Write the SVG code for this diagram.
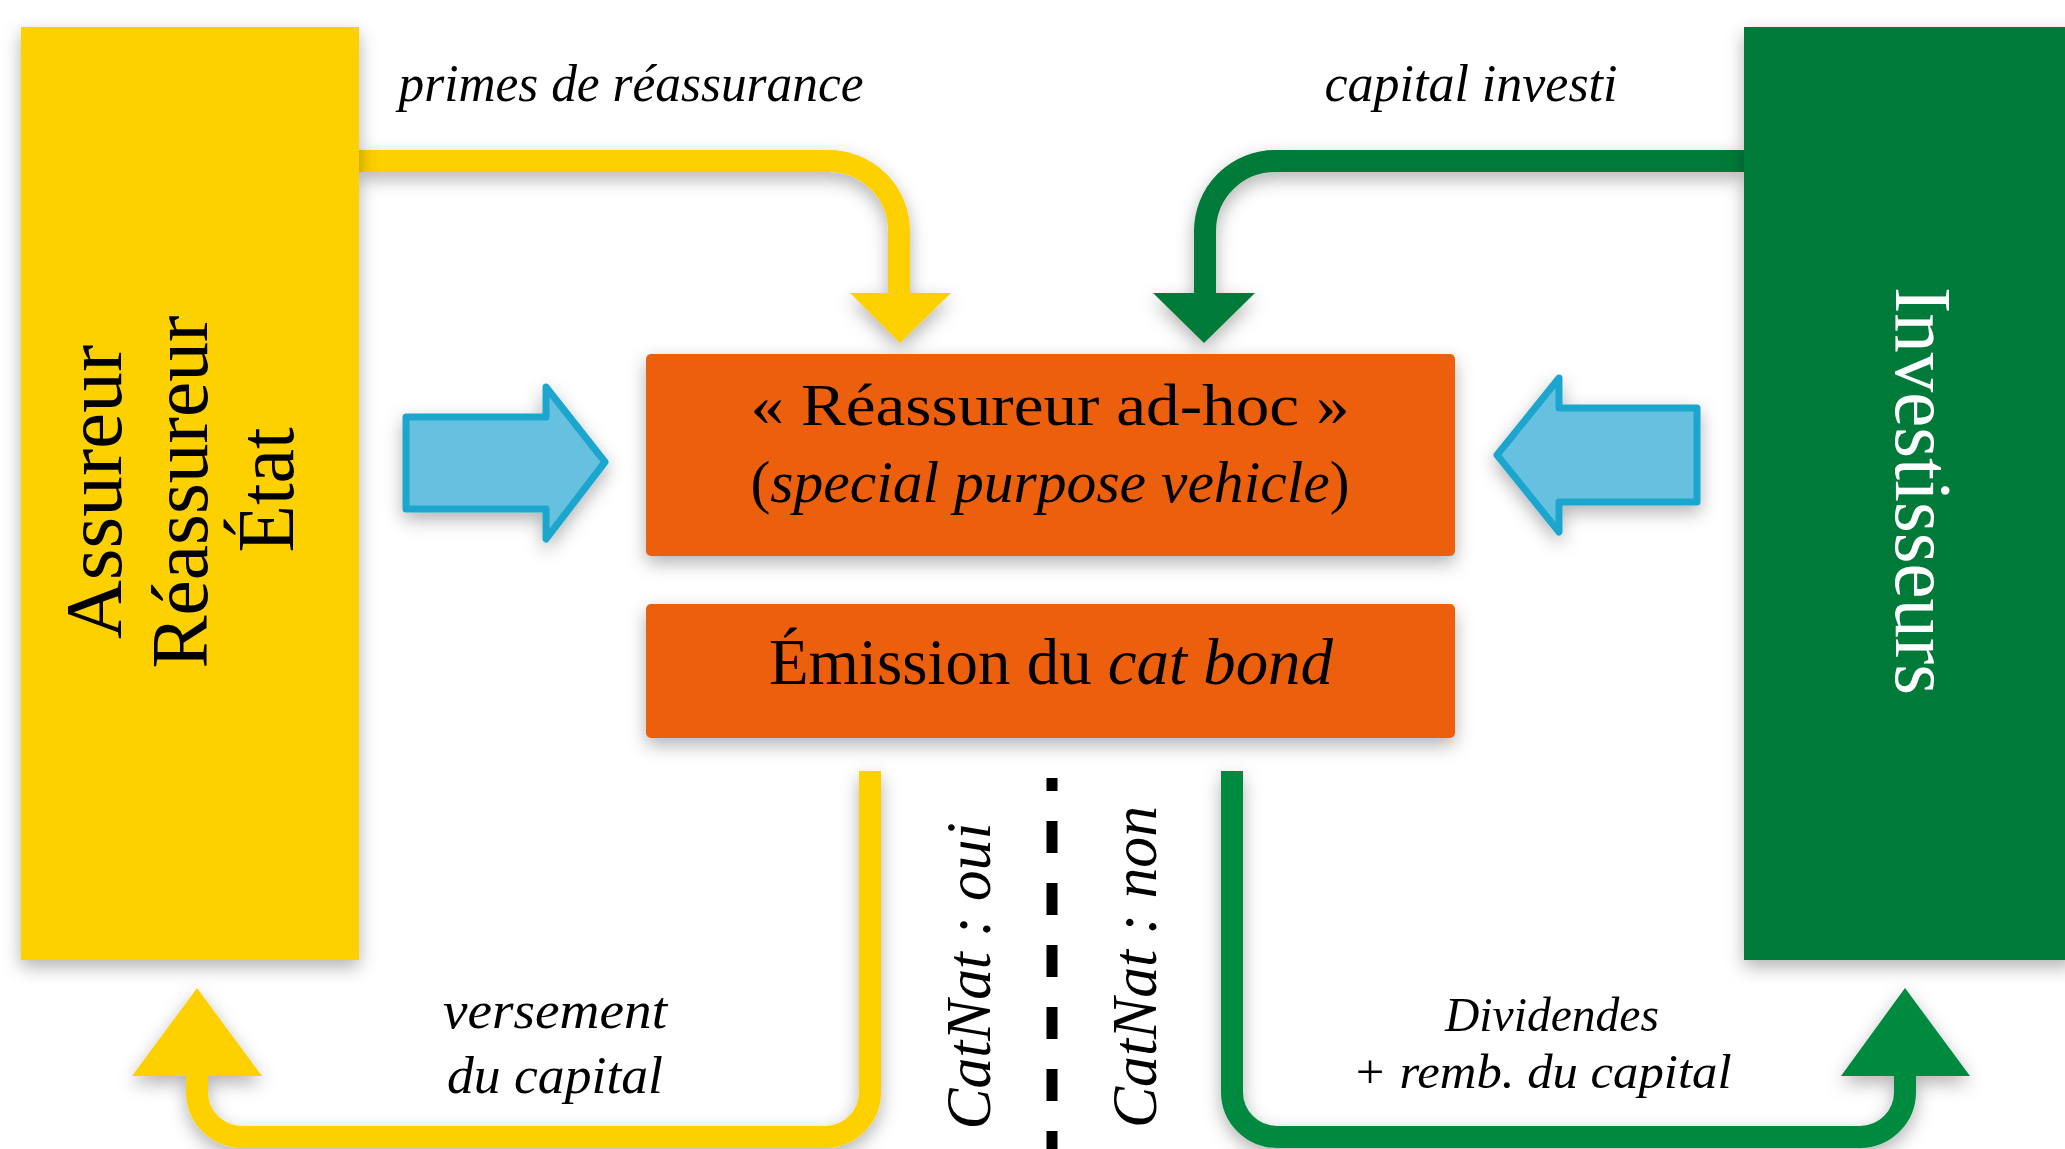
<svg xmlns="http://www.w3.org/2000/svg" width="2065" height="1149" viewBox="0 0 2065 1149">
<defs>
<filter id="sh" x="-20%" y="-20%" width="140%" height="140%">
<feDropShadow dx="0" dy="7" stdDeviation="9" flood-color="#000" flood-opacity="0.3"/>
</filter>
<style>
text{font-family:"Liberation Serif","Times New Roman",serif;fill:#000}
.it{font-style:italic}
.lbl{font-size:52px;font-style:italic}
.big{font-size:66px}
.spv{font-size:60px}
.side{font-size:80px}
.yl{fill:none;stroke:#FDD000;stroke-width:22}
.gl{fill:none;stroke:#008A40;stroke-width:22}
.gt{fill:none;stroke:#007A38;stroke-width:22}
.blue{fill:#66C0DF;stroke:#1BA6CE;stroke-width:7;stroke-linejoin:round}
.org{fill:#EC610A}
</style>
</defs>
<rect width="2065" height="1149" fill="#fff"/>

<g id="connectors" filter="url(#sh)">
<path class="yl" d="M 358 161 H 829 A 70 70 0 0 1 899 231 V 296"/>
<polygon points="850,293 951,293 900,343" fill="#FDD000"/>
<path class="gt" d="M 1744 161 H 1275 A 70 70 0 0 0 1205 231 V 296"/>
<polygon points="1153,293 1255,293 1204,343" fill="#007A38"/>
<path class="yl" d="M 870 771 V 1092 A 45 45 0 0 1 825 1137 H 242 A 45 45 0 0 1 197 1092 V 1073"/>
<polygon points="132,1076 262,1076 197,988" fill="#FDD000"/>
<path class="gl" d="M 1232 771 V 1092 A 45 45 0 0 0 1277 1137 H 1860 A 45 45 0 0 0 1905 1092 V 1073"/>
<polygon points="1841,1076 1970,1076 1905,988" fill="#008A40"/>
</g>

<g id="dash-line">
<line x1="1052" y1="778" x2="1052" y2="1149" stroke="#000" stroke-width="11" stroke-dasharray="32 30" stroke-dashoffset="19"/>
</g>

<g id="assureur" filter="url(#sh)">
<rect x="21" y="27" width="338" height="933" fill="#FDD000"/>
</g>
<g id="assureur-text">
<text class="side" transform="translate(121,492) rotate(-90)" text-anchor="middle" textLength="294" lengthAdjust="spacingAndGlyphs">Assureur</text>
<text class="side" transform="translate(207,492) rotate(-90)" text-anchor="middle" textLength="353" lengthAdjust="spacingAndGlyphs">Réassureur</text>
<text class="side" transform="translate(293,490) rotate(-90)" text-anchor="middle" textLength="125" lengthAdjust="spacingAndGlyphs">État</text>
</g>

<g id="investisseurs" filter="url(#sh)">
<rect x="1744" y="27" width="330" height="933" fill="#007A38"/>
</g>
<text class="side" transform="translate(1896,491) rotate(90)" text-anchor="middle" textLength="408" lengthAdjust="spacingAndGlyphs" style="fill:#fff">Investisseurs</text>

<g id="spv" filter="url(#sh)">
<rect class="org" x="646" y="354" width="809" height="202" rx="5"/>
</g>
<text class="spv" x="1050" y="425" text-anchor="middle" textLength="599" lengthAdjust="spacingAndGlyphs">« Réassureur ad-hoc »</text>
<text class="spv" x="1050" y="502" text-anchor="middle" textLength="599" lengthAdjust="spacingAndGlyphs">(<tspan class="it">special purpose vehicle</tspan>)</text>

<g id="emission" filter="url(#sh)">
<rect class="org" x="646" y="604" width="809" height="134" rx="5"/>
</g>
<text class="big" x="1051" y="684" text-anchor="middle" textLength="564" lengthAdjust="spacingAndGlyphs">Émission du <tspan class="it">cat bond</tspan></text>

<g id="arrow-left" filter="url(#sh)">
<path class="blue" d="M 406 417 H 546 V 387 L 605 462 L 546 539 V 509 H 406 Z"/>
</g>
<g id="arrow-right" filter="url(#sh)">
<path class="blue" d="M 1697 408 H 1559 V 378 L 1497 455 L 1559 532 V 502 H 1697 Z"/>
</g>

<g id="labels">
<text class="lbl" x="631" y="101" text-anchor="middle" textLength="465" lengthAdjust="spacingAndGlyphs">primes de réassurance</text>
<text class="lbl" x="1471" y="101" text-anchor="middle" textLength="293" lengthAdjust="spacingAndGlyphs">capital investi</text>
<text class="lbl" x="555" y="1028" text-anchor="middle" textLength="224" lengthAdjust="spacingAndGlyphs">versement</text>
<text class="lbl" x="555" y="1093" text-anchor="middle" textLength="216" lengthAdjust="spacingAndGlyphs">du capital</text>
<text class="lbl" x="1552" y="1031" text-anchor="middle" textLength="214" lengthAdjust="spacingAndGlyphs" style="font-size:49px">Dividendes</text>
<text class="lbl" x="1542" y="1088" text-anchor="middle" textLength="379" lengthAdjust="spacingAndGlyphs" style="font-size:49px">+ remb. du capital</text>
<text class="lbl" transform="translate(990,976) rotate(-90)" text-anchor="middle" textLength="307" lengthAdjust="spacingAndGlyphs" style="font-size:64px">CatNat : oui</text>
<text class="lbl" transform="translate(1156,967) rotate(-90)" text-anchor="middle" textLength="322" lengthAdjust="spacingAndGlyphs" style="font-size:64px">CatNat : non</text>
</g>
</svg>
